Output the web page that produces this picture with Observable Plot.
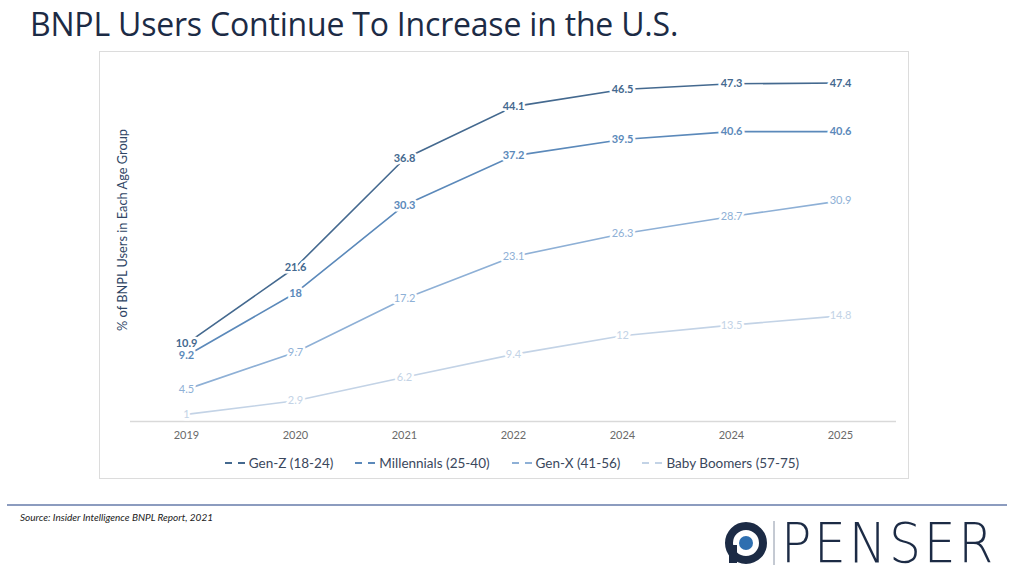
<!DOCTYPE html>
<html><head><meta charset="utf-8">
<script src="https://cdn.jsdelivr.net/npm/d3@7"></script>
<script src="https://cdn.jsdelivr.net/npm/@observablehq/plot@0.6"></script>
<style>
body{margin:0;width:1024px;height:576px;background:#fff;font-family:Lato,"Open Sans",sans-serif;position:relative;overflow:hidden}
#title{position:absolute;left:30px;top:2px;font-size:32px;color:#1c2b45;font-family:"Open Sans",Lato,sans-serif;letter-spacing:-0.2px}
#box{position:absolute;left:99px;top:51px;width:808px;height:426px;border:1px solid #dcdcdc}
#chart{position:absolute;left:0;top:0}
#ylab{position:absolute;left:122px;top:230px;transform:translate(-50%,-50%) rotate(-90deg);font-size:12.8px;color:#2f4565;white-space:nowrap}
#legend{position:absolute;left:8px;width:100%;top:403px;display:flex;justify-content:center;gap:22px;font-size:13.5px;color:#3a475c}
#legend span{display:flex;align-items:center;gap:2px}
#rule{position:absolute;left:7px;top:504px;width:1000px;height:2px;background:#8c9cbf}
#source{position:absolute;left:20px;top:511px;font-size:10px;font-style:italic;color:#222}
#logo{position:absolute;left:724px;top:515px;display:flex;align-items:center}
#logo .txt{font-family:"DejaVu Sans",sans-serif;font-weight:200;font-size:56px;color:#1c2b45;letter-spacing:3px;line-height:1;transform:scaleX(0.9);transform-origin:left;margin-left:3px}
</style></head>
<body>
<div id="title">BNPL Users Continue To Increase in the U.S.</div>
<div id="box"><div id="chart"></div><div id="legend"></div></div>
<div id="ylab">% of BNPL Users in Each Age Group</div>
<div id="rule"></div>
<div id="source">Source: Insider Intelligence BNPL Report, 2021</div>
<div id="logo">
<svg width="44" height="44" viewBox="0 0 44 44"><circle cx="22" cy="22" r="17" fill="none" stroke="#1c2b45" stroke-width="8"/><circle cx="22" cy="22" r="7" fill="#2e6fb0"/><rect x="5" y="24" width="8" height="18" fill="#1c2b45"/></svg>
<svg width="10" height="48"><line x1="6" y1="2" x2="6" y2="46" stroke="#8a94a6" stroke-width="1"/></svg>
<span class="txt">PENSER</span>
</div>
<script>
const years = ["2019","2020","2021","2022","2024","2024","2025"];
const seriesNames = ["Gen-Z (18-24)","Millennials (25-40)","Gen-X (41-56)","Baby Boomers (57-75)"];
const genZ = [10.9,21.6,36.8,44.1,46.5,47.3,47.4];
const millennials = [9.2,18,30.3,37.2,39.5,40.6,40.6];
const genX = [4.5,9.7,17.2,23.1,26.3,28.7,30.9];
const boomers = [1,2.9,6.2,9.4,12,13.5,14.8];
const colors = ["#44698f","#5b89ba","#8eb0d6","#c3d3e6"];
const weights = ["bold","bold","normal","normal"];

const seriesValues = [genZ, millennials, genX, boomers];
const data = [];
seriesValues.forEach((vals, s) => vals.forEach((v, i) => data.push({i, v, s: seriesNames[s]})));

const chart = Plot.plot({
  width: 808, height: 400,
  marginLeft: 30, marginRight: 12, marginTop: 12, marginBottom: 31,
  x: {type: "point", domain: d3.range(years.length), padding: 0.5, tickFormat: i => years[i], label: null, tickSize: 0, tickPadding: 10},
  y: {domain: [0, 50], axis: null},
  color: {domain: seriesNames, range: colors},
  style: {fontFamily: "Lato, 'Open Sans', sans-serif", fontSize: "11px", color: "#6a6a6a"},
  marks: [
    Plot.ruleY([0], {stroke: "#d9d9d9", strokeWidth: 1.5}),
    Plot.line(data, {x: "i", y: "v", z: "s", stroke: "s", strokeWidth: 1.6}),
    ...seriesNames.map((name, s) => Plot.text(data.filter(d => d.s === name), {
      x: "i", y: "v", text: d => String(d.v), fill: colors[s], stroke: "white", strokeWidth: 5,
      fontWeight: weights[s], fontSize: 11
    }))
  ]
});
document.getElementById("chart").appendChild(chart);

const legend = document.getElementById("legend");
seriesNames.forEach((name, s) => {
  const span = document.createElement("span");
  span.innerHTML = `<svg width="22" height="4"><line x1="0" y1="2" x2="22" y2="2" stroke="${colors[s]}" stroke-width="2" stroke-dasharray="7,6"/></svg>${name}`;
  legend.appendChild(span);
});
</script>
</body></html>
